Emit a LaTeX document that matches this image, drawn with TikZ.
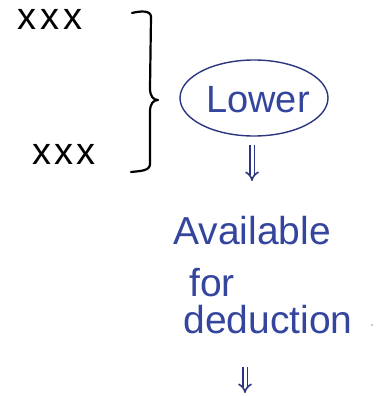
\documentclass[tikz,border=0pt]{standalone}
\usepackage{fontspec}
\setmainfont{Liberation Sans}
\usetikzlibrary{arrows.meta,shapes.geometric}
\definecolor{ink}{HTML}{2B3580}
\definecolor{inktext}{HTML}{34459E}
\tikzset{
  hand/.style={font=\fontsize{39}{42}\selectfont, text=inktext, inner sep=0pt},
  xmark/.style={font=\fontsize{38}{40}\selectfont, text=black, inner sep=0pt},
  oval/.style={ellipse, draw=ink, line width=1.4pt, minimum width=148pt, minimum height=76pt, inner sep=0pt},
  implies/.style={draw=ink, line width=1.6pt, double distance=3pt, -{Implies[length=8pt]}},
}
\begin{document}
\begin{tikzpicture}[x=1pt,y=-1pt]
\useasboundingbox (0,0) rectangle (388,396);
\node[xmark] (x1) at (50,19) {x\kern4pt x\kern4pt x};
\node[xmark] (x2) at (64,154) {x\kern3pt x\kern3pt x};
\draw[line width=2.2pt, line cap=round, line join=round]
  (132,13) .. controls (140,11) and (151,10) .. (151,17) -- (150,88)
  .. controls (150,96) and (153,100) .. (158,100)
  .. controls (153,100) and (150,104) .. (150,112) -- (150,164)
  .. controls (150,171) and (140,171) .. (131,172);
\node[oval] (lower) at (254,98) {};
\node[hand, font=\fontsize{38}{42}\selectfont] (lw) at (258,100) {Lower};
\node[hand] (av) at (252,231) {Available};
\node[hand] (for) at (212,283) {for};
\node[hand] (ded) at (268,320) {deduction};
\fill[inktext!60] (372,325) circle (0.8pt);
\coordinate (end) at (245,393);
\draw[implies, shorten <=8pt, shorten >=34pt] (lower.south -| 252,0) -- (252,215);
\draw[implies, shorten <=32pt] (ded.south -| 245,0) -- (end);
\end{tikzpicture}
\end{document}
